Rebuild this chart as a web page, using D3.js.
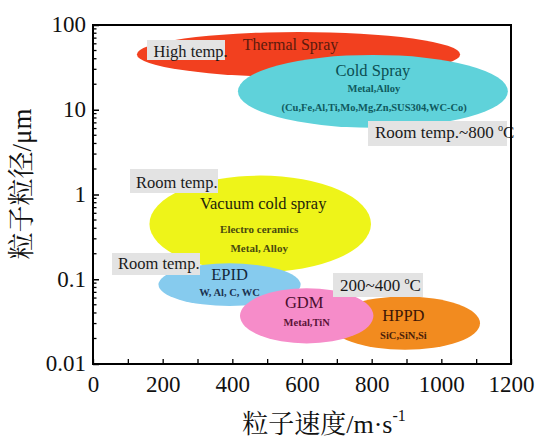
<!DOCTYPE html>
<html>
<head>
<meta charset="utf-8">
<script src="https://cdn.jsdelivr.net/npm/d3@7/dist/d3.min.js"></script>
<style>
  html, body { margin: 0; padding: 0; background: #fff; }
  svg { display: block; }
</style>
</head>
<body>
<svg id="chart" width="536" height="441"></svg>
<script>
// Deposition processes: particle velocity (m/s) vs particle diameter (µm)
const processes  = ["Thermal Spray", "Cold Spray", "Vacuum cold spray", "EPID", "GDM", "HPPD"];
const speedMin   = [126, 416, 162, 188, 422, 680];
const speedMax   = [1054, 1191, 798, 596, 805, 1111];
const sizeMin    = [24.4, 6.14, 0.121, 0.0485, 0.0175, 0.0147];
const sizeMax    = [82.7, 44.4, 1.67, 0.154, 0.0783, 0.0625];
const materials  = [
  [],
  ["Metal,Alloy", "(Cu,Fe,Al,Ti,Mo,Mg,Zn,SUS304,WC-Co)"],
  ["Electro ceramics", "Metal, Alloy"],
  ["W, Al, C, WC"],
  ["Metal,TiN"],
  ["SiC,SiN,Si"]
];
const notes = ["High temp.", "Room temp.~800 ", "Room temp.", "Room temp.", "200~400 "];
const xTicks = [0, 100, 200, 300, 400, 500, 600, 700, 800, 900, 1000, 1100, 1200];
const xTickLabels = ["0", "200", "400", "600", "800", "1000", "1200"];
const yMajor = [100, 10, 1, 0.1, 0.01];
const yTickLabels = ["100", "10", "1", "0.1", "0.01"];

const SERIF = "'Liberation Serif', 'Times New Roman', Tinos, 'DejaVu Serif', serif";
const CJK = "'Liberation Serif', 'Noto Serif CJK SC', 'Noto Sans CJK SC', serif";

const svg = d3.select("#chart");
const plot = { left: 93, right: 511, top: 25, bottom: 364 };

const x = d3.scaleLinear().domain([0, 1200]).range([plot.left, plot.right]);
const y = d3.scaleLog().domain([0.01, 100]).range([plot.bottom, plot.top]);

// ellipse styling, in drawing order
const fills = ["#f2401f", "#5fd2da", "#eef419", "#86cbee", "#f68cc9", "#f28b1f"];
const titleColor = ["#5c1a0c", "#0c4e52", "#24240a", "#14283c", "#4a0e2e", "#3c1606"];
const subColor   = ["#5c1a0c", "#0f5a5e", "#4a4a0e", "#1a3250", "#5a1438", "#4a1e0a"];
const order = [0, 1, 2, 3, 5, 4];

// label layout relative to each ellipse centre (px)
const titleOffset = [[-8, -4.5], [0, -15.5], [3, -14.7], [0, -4.6], [-2.5, -7.7], [-1.5, -1.7]];
const titleSize = [16, 16.5, 16.5, 16.5, 16.5, 16.5];
const subOffset = [[], [[1, 0.3], [1.3, 19.6]], [[-1, 8.6], [-1, 27.6]], [[0, 11.4]], [[0, 10.6]], [[-1.5, 16]]];
const subSize = [0, 10.5, 11, 10.5, 10.5, 10.5];

const geo = processes.map((p, i) => {
  const x0 = x(speedMin[i]), x1 = x(speedMax[i]);
  const y0 = y(sizeMax[i]), y1 = y(sizeMin[i]);
  return { cx: (x0 + x1) / 2, cy: (y0 + y1) / 2, rx: (x1 - x0) / 2, ry: (y1 - y0) / 2 };
});

const gE = svg.append("g");
order.forEach(i => {
  const g = geo[i];
  gE.append("ellipse")
    .attr("cx", g.cx).attr("cy", g.cy).attr("rx", g.rx).attr("ry", g.ry)
    .attr("fill", fills[i]);
});

const gT = svg.append("g").attr("font-family", SERIF);
order.forEach(i => {
  const g = geo[i];
  gT.append("text")
    .attr("x", g.cx + titleOffset[i][0]).attr("y", g.cy + titleOffset[i][1])
    .attr("text-anchor", "middle")
    .attr("font-size", titleSize[i])
    .attr("fill", titleColor[i])
    .text(processes[i]);
  materials[i].forEach((m, k) => {
    gT.append("text")
      .attr("x", g.cx + subOffset[i][k][0]).attr("y", g.cy + subOffset[i][k][1])
      .attr("text-anchor", "middle")
      .attr("font-size", subSize[i])
      .attr("font-weight", "bold")
      .attr("fill", subColor[i])
      .text(m);
  });
});

// temperature notes on grey boxes
const noteBox = [
  [147, 40, 78, 20],
  [368, 121, 139, 25],
  [130, 169, 88, 24],
  [112, 253, 88, 22],
  [333, 273, 90, 24]
];
const noteText = [[153.5, 56.5], [375, 137.5], [136, 188], [118, 269], [340, 291]];
const noteSize = [16.5, 17, 16.5, 16.5, 17];
const withDegree = [false, true, false, false, true];
const gN = svg.append("g").attr("font-family", SERIF);
notes.forEach((n, i) => {
  const b = noteBox[i];
  gN.append("rect").attr("x", b[0]).attr("y", b[1]).attr("width", b[2]).attr("height", b[3])
    .attr("fill", "#e3e3e3");
  const t = gN.append("text")
    .attr("x", noteText[i][0]).attr("y", noteText[i][1])
    .attr("font-size", noteSize[i]).attr("fill", "#1a1a1a");
  t.append("tspan").text(n);
  if (withDegree[i]) {
    t.append("tspan").attr("font-size", noteSize[i] * 0.6).attr("dy", -7).text("o");
    t.append("tspan").attr("dy", 7).text("C");
  }
});

// axes
const xAxis = d3.axisBottom(x).tickValues(xTicks).tickSize(-5).tickPadding(12)
  .tickFormat(d => (d % 200 === 0 ? xTickLabels[d / 200] : ""));
const gx = svg.append("g").attr("transform", `translate(0,${plot.bottom})`).call(xAxis)
  .attr("font-family", SERIF);
gx.select(".domain").remove();
gx.selectAll(".tick line").attr("stroke", "#000").attr("stroke-width", 1.3);
gx.selectAll(".tick text").attr("font-size", 23).attr("fill", "#111").attr("dy", "0.71em");

const minor = [];
for (let e = -2; e < 2; e++) for (let m = 2; m <= 9; m++) minor.push(m * Math.pow(10, e));
const gy = svg.append("g");
gy.selectAll("line.minor").data(minor).join("line")
  .attr("x1", plot.left).attr("x2", plot.left + 3.5)
  .attr("y1", d => y(d)).attr("y2", d => y(d))
  .attr("stroke", "#000").attr("stroke-width", 1.3);
const yAxis = d3.axisLeft(y).tickValues(yMajor).tickSize(-6).tickPadding(10)
  .tickFormat((d, i) => yTickLabels[i]);
const gyA = gy.append("g").attr("transform", `translate(${plot.left},0)`).call(yAxis)
  .attr("font-family", SERIF);
gyA.select(".domain").remove();
gyA.selectAll(".tick line").attr("stroke", "#000").attr("stroke-width", 1.5);
gyA.selectAll(".tick text").attr("font-size", 23).attr("fill", "#111")
  .attr("x", -7).attr("dy", "0.3em");

// frame
svg.append("rect")
  .attr("x", plot.left).attr("y", plot.top)
  .attr("width", plot.right - plot.left).attr("height", plot.bottom - plot.top)
  .attr("fill", "none").attr("stroke", "#000").attr("stroke-width", 2);

// axis titles
const xt = svg.append("text").attr("x", 324).attr("y", 433).attr("text-anchor", "middle")
  .attr("font-family", CJK).attr("font-size", 26).attr("fill", "#111");
xt.append("tspan").text("粒子速度/m·s");
xt.append("tspan").attr("font-size", 16).attr("dy", -12).text("-1");

svg.append("text").attr("transform", "translate(31,184) rotate(-90)")
  .attr("font-family", CJK)
  .attr("text-anchor", "middle").attr("font-size", 27).attr("fill", "#111")
  .text("粒子粒径/μm");
</script>
</body>
</html>
